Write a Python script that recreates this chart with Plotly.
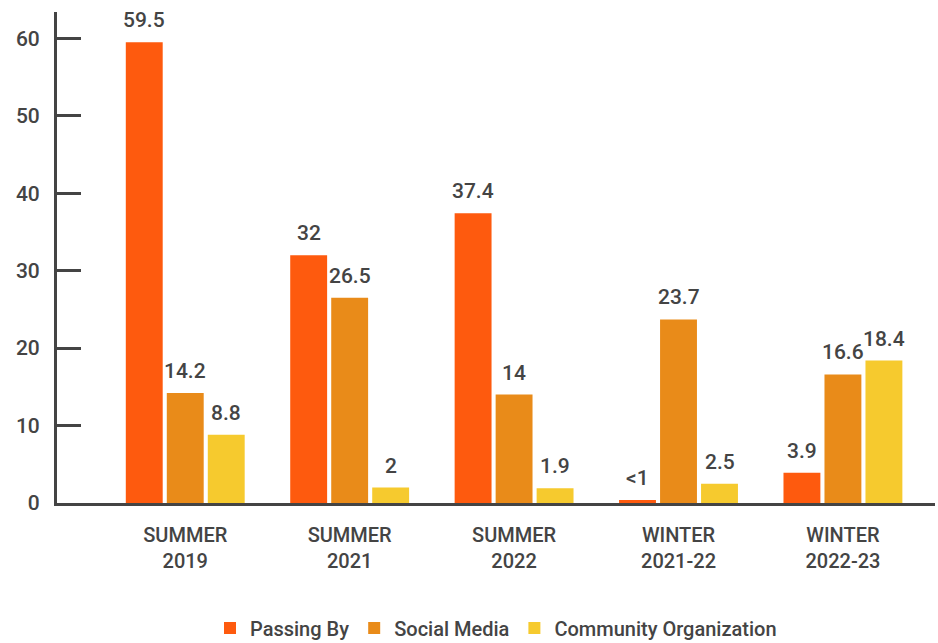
import plotly.graph_objects as go

categories = ["SUMMER<br>2019", "SUMMER<br>2021", "SUMMER<br>2022", "WINTER<br>2021-22", "WINTER<br>2022-23"]
passing_by = [59.5, 32, 37.4, 0.4, 3.9]
passing_by_text = ["59.5", "32", "37.4", "<1", "3.9"]
social_media = [14.2, 26.5, 14, 23.7, 16.6]
community_org = [8.8, 2, 1.9, 2.5, 18.4]
y_ticks = [0, 10, 20, 30, 40, 50, 60]

FONT = "Roboto, Arial, sans-serif"
TXT = "#444444"
BARGAP = 0.252

fig = go.Figure()
series = [
    ("Passing By", passing_by, passing_by_text, "#FE5A0E"),
    ("Social Media", social_media, [f"{v:g}" for v in social_media], "#E98B19"),
    ("Community Organization", community_org, [f"{v:g}" for v in community_org], "#F6CA2E"),
]
slot = (1 - BARGAP) / len(series)
for j, (name, vals, txt, col) in enumerate(series):
    fig.add_trace(go.Bar(
        name=name, x=list(range(len(categories))), y=vals,
        marker=dict(color=col, line=dict(width=0)),
    ))
    for i, (v, t) in enumerate(zip(vals, txt)):
        fig.add_annotation(
            x=i + (j - 1) * slot, y=v, xref="x", yref="y", text=t,
            showarrow=False, yanchor="bottom", yshift=8,
            font=dict(size=21, color=TXT, family=FONT, weight=500),
        )

fig.update_layout(
    width=938, height=643,
    margin=dict(l=57, r=3, t=12, b=140, autoexpand=False),
    paper_bgcolor="white", plot_bgcolor="white",
    barmode="group", bargap=BARGAP, bargroupgap=0.1,
    font=dict(family=FONT, color=TXT, size=20),
    showlegend=True,
    legend=dict(orientation="h", x=0.5, xanchor="center", y=-0.215, yanchor="top",
                font=dict(size=20, color=TXT, family=FONT, weight=500), itemwidth=30,
                traceorder="normal"),
    xaxis=dict(
        range=[-0.78, 4.56], tickmode="array", tickvals=list(range(len(categories))),
        ticktext=categories, showgrid=False, zeroline=False,
        showline=True, linecolor="#444444", linewidth=3, ticks="",
        ticklabelstandoff=12,
        tickfont=dict(size=20, color=TXT, family=FONT, weight=500),
    ),
    yaxis=dict(
        range=[0, 63.4], tickvals=y_ticks, showgrid=False, zeroline=False,
        showline=True, linecolor="#444444", linewidth=3,
        ticks="inside", ticklen=24, tickwidth=3, tickcolor="#444444",
        ticklabelstandoff=10,
        tickfont=dict(size=21, color=TXT, family=FONT, weight=500),
    ),
)

fig.write_html("out.html")
